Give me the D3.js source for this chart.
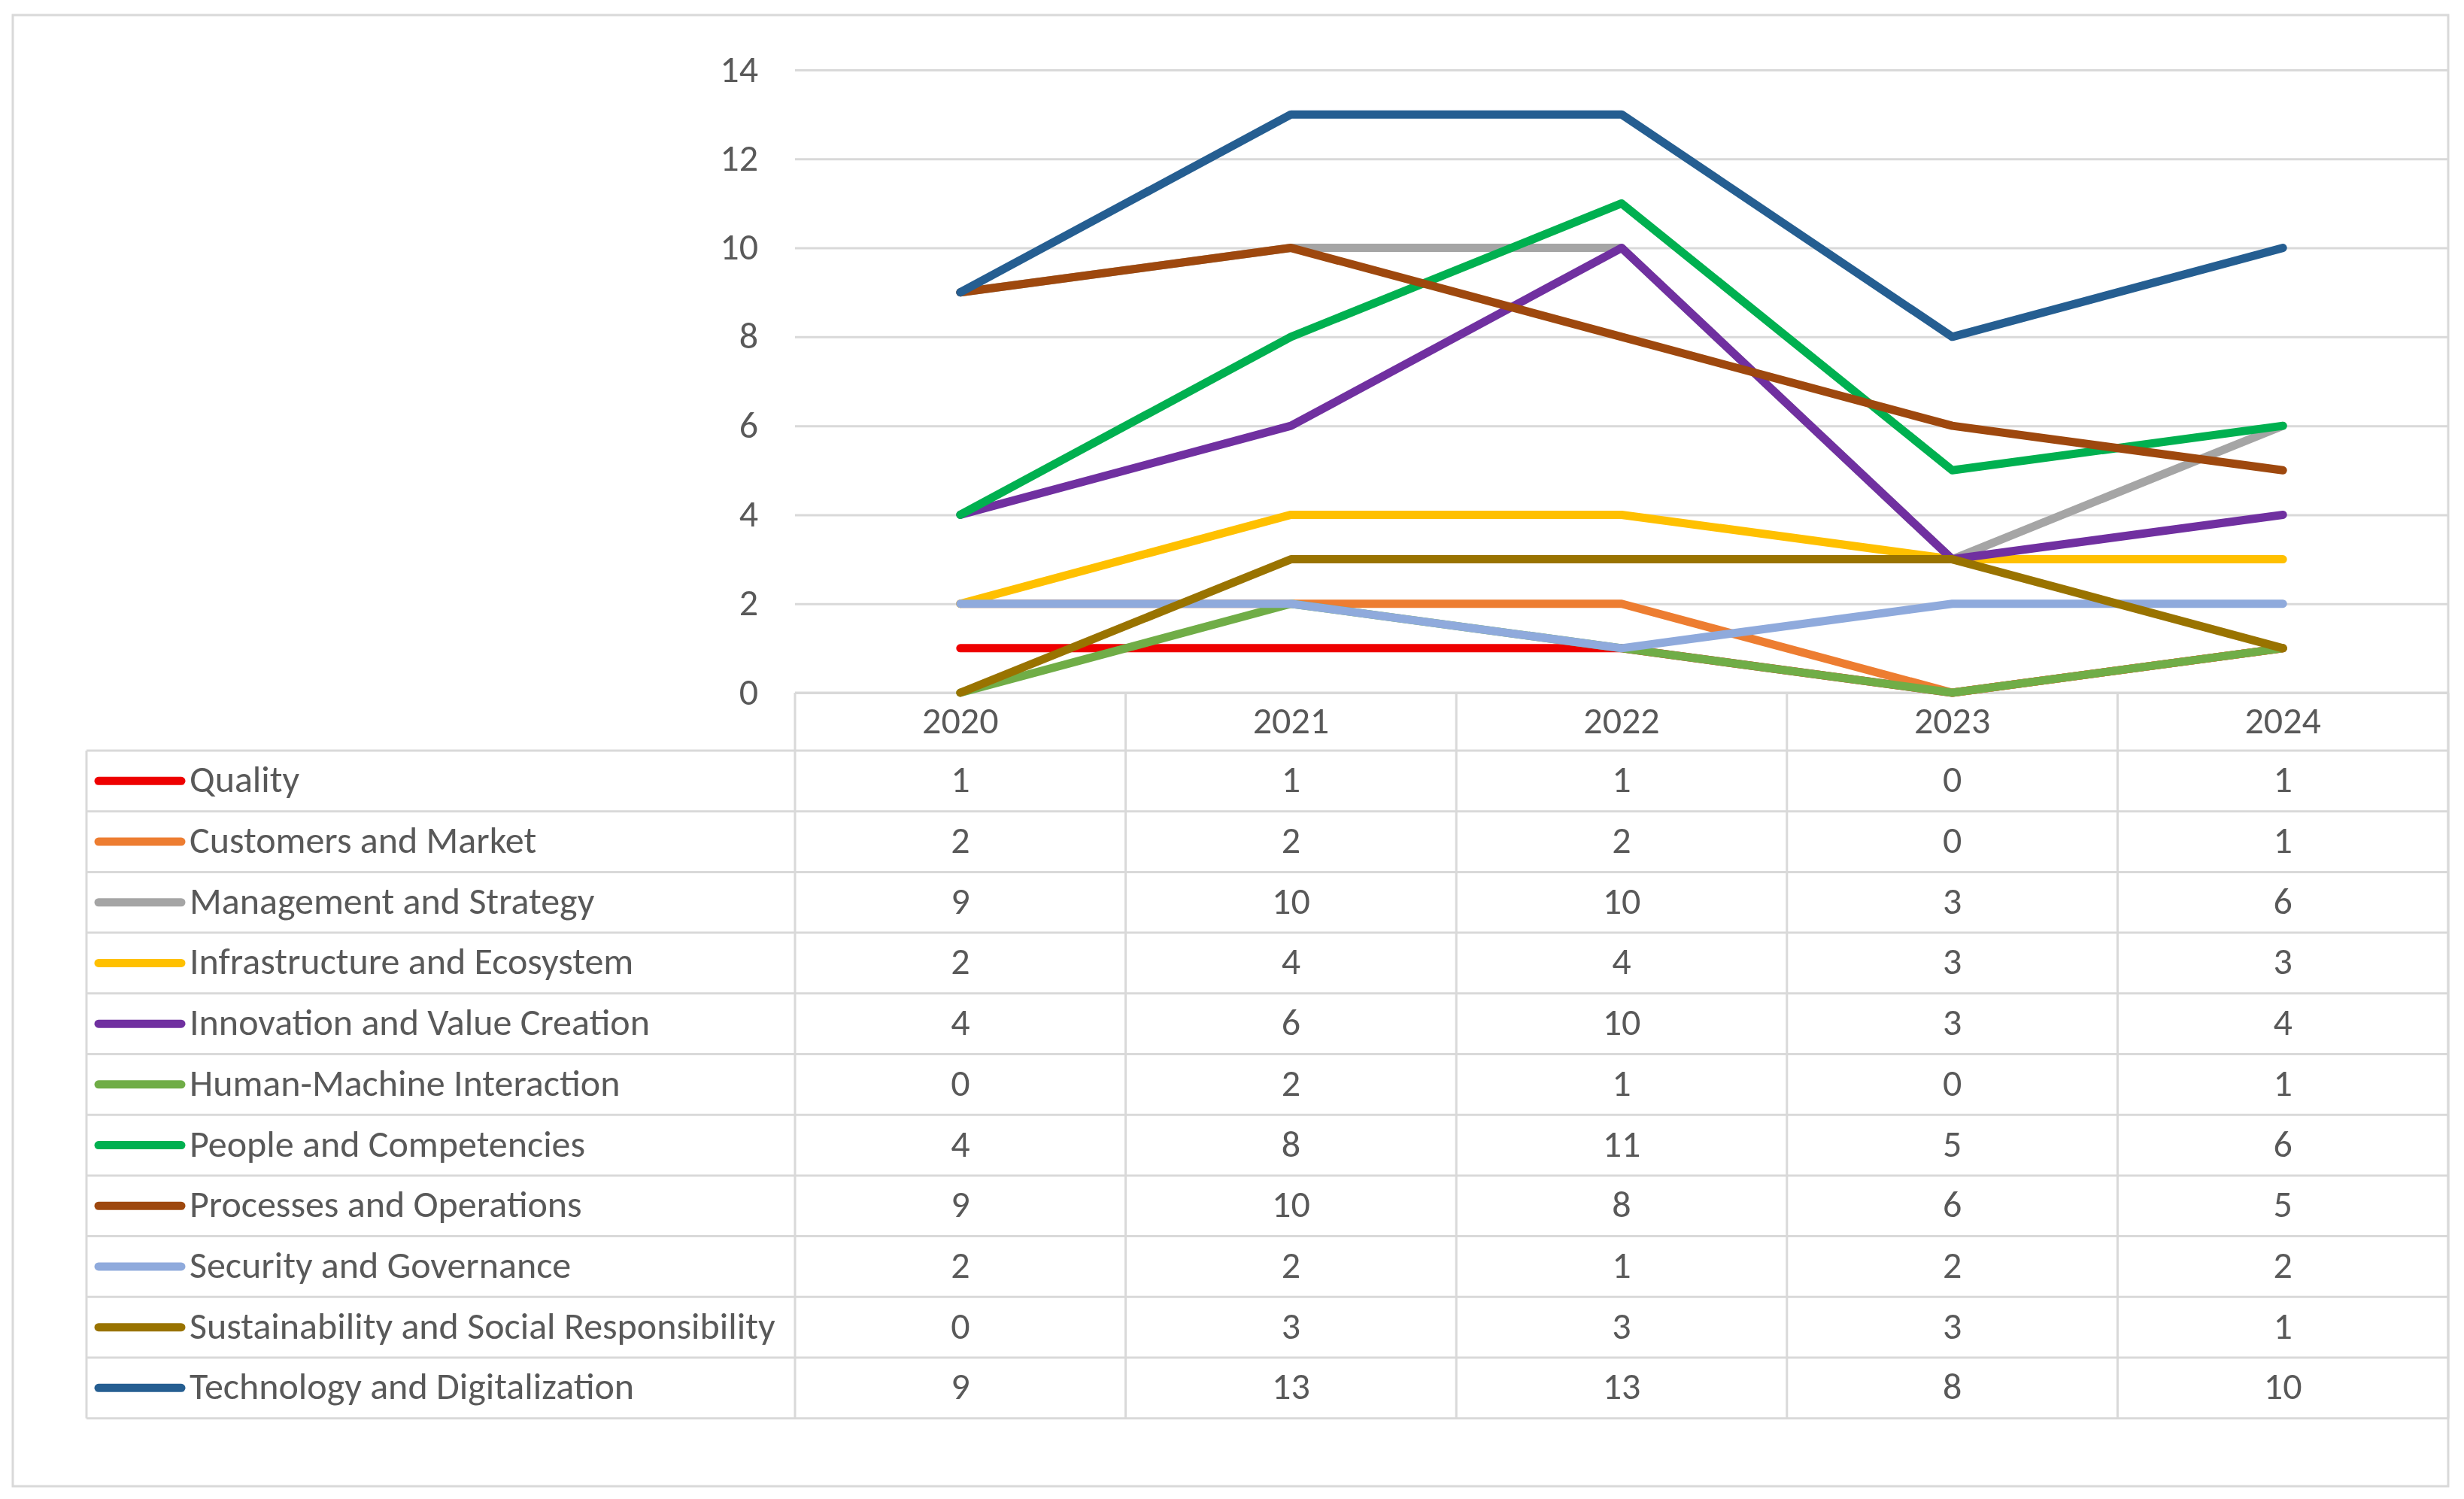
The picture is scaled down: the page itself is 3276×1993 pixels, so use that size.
<!DOCTYPE html>
<html>
<head>
<meta charset="utf-8">
<script src="https://cdn.jsdelivr.net/npm/d3@7"></script>
<style>
  body { margin:0; background:#fff; }
  svg text { font-family: Carlito, Calibri, Lato, "Open Sans", sans-serif; fill:#595959; }
</style>
</head>
<body>
<div id="chart"></div>
<script>
// years on the category axis
var years = ["2020", "2021", "2022", "2023", "2024"];
// series names, in legend / table order
var names = [
  "Quality",
  "Customers and Market",
  "Management and Strategy",
  "Infrastructure and Ecosystem",
  "Innovation and Value Creation",
  "Human-Machine Interaction",
  "People and Competencies",
  "Processes and Operations",
  "Security and Governance",
  "Sustainability and Social Responsibility",
  "Technology and Digitalization"
];
// one row of values per series, one value per year
var values = [
  [1, 1, 1, 0, 1],
  [2, 2, 2, 0, 1],
  [9, 10, 10, 3, 6],
  [2, 4, 4, 3, 3],
  [4, 6, 10, 3, 4],
  [0, 2, 1, 0, 1],
  [4, 8, 11, 5, 6],
  [9, 10, 8, 6, 5],
  [2, 2, 1, 2, 2],
  [0, 3, 3, 3, 1],
  [9, 13, 13, 8, 10]
];
var yTicks = [0, 2, 4, 6, 8, 10, 12, 14];

var colors = ["#EE0000", "#ED7D31", "#A5A5A5", "#FFC000", "#7030A0", "#70AD47",
              "#00B050", "#9E480E", "#8FAADC", "#997300", "#255E91"];

var W = 3276, H = 1993;
var plot = {left:1057, right:3255, top:93, bottom:921};
var table = {left:115, headerBottom:998, rowH:80.7};
var grid = "#d9d9d9";
var fs = 50;

var series = names.map(function(n, i){
  return {name:n, values:values[i], color:colors[i]};
});

var svg = d3.select("#chart").append("svg").attr("width", W).attr("height", H);

// chart area border
svg.append("rect").attr("x", 17).attr("y", 20).attr("width", 3238).attr("height", 1956)
  .attr("fill", "#fff").attr("stroke", grid).attr("stroke-width", 3);

var x = d3.scaleBand().domain(years).range([plot.left, plot.right]);
var y = d3.scaleLinear().domain([0, 14]).range([plot.bottom, plot.top]);

// value axis with gridlines
var yAxis = svg.append("g").attr("transform", "translate(" + plot.left + ",0)")
  .call(d3.axisLeft(y).tickValues(yTicks).tickSize(-(plot.right - plot.left)).tickPadding(49));
yAxis.select(".domain").remove();
yAxis.selectAll(".tick line").attr("stroke", grid).attr("stroke-width", 3);
yAxis.selectAll(".tick text").attr("font-size", fs).attr("dy", "0.3em").style("font-family", null);

// data table
var tableBottom = table.headerBottom + table.rowH * names.length;
var t = svg.append("g").attr("class", "table");
// horizontal rules
t.selectAll(".hrule").data(d3.range(names.length + 1)).enter().append("line")
  .attr("x1", table.left).attr("x2", plot.right)
  .attr("y1", function(d){ return table.headerBottom + d * table.rowH; })
  .attr("y2", function(d){ return table.headerBottom + d * table.rowH; })
  .attr("stroke", grid).attr("stroke-width", 3);
// axis line (top of header)
t.append("line").attr("x1", plot.left).attr("x2", plot.right)
  .attr("y1", plot.bottom).attr("y2", plot.bottom).attr("stroke", grid).attr("stroke-width", 3);
// column rules
t.selectAll(".vrule").data(years.concat(["end"])).enter().append("line")
  .attr("x1", function(d, i){ return plot.left + i * x.bandwidth(); })
  .attr("x2", function(d, i){ return plot.left + i * x.bandwidth(); })
  .attr("y1", plot.bottom).attr("y2", tableBottom)
  .attr("stroke", grid).attr("stroke-width", 3);
t.append("line").attr("x1", table.left).attr("x2", table.left)
  .attr("y1", table.headerBottom).attr("y2", tableBottom)
  .attr("stroke", grid).attr("stroke-width", 3);

// year headers
t.selectAll(".year").data(years).enter().append("text")
  .attr("class", "year")
  .attr("x", function(d){ return x(d) + x.bandwidth() / 2; })
  .attr("y", (plot.bottom + table.headerBottom) / 2 + 15)
  .attr("text-anchor", "middle").attr("font-size", fs)
  .text(function(d){ return d; });

var rows = t.selectAll(".row").data(series).enter().append("g")
  .attr("class", "row")
  .attr("transform", function(d, i){
    return "translate(0," + (table.headerBottom + (i + 0.5) * table.rowH) + ")";
  });
rows.append("line")
  .attr("x1", 131).attr("x2", 241).attr("y1", 0).attr("y2", 0)
  .attr("stroke", function(d){ return d.color; })
  .attr("stroke-width", 11).attr("stroke-linecap", "round");
rows.append("text")
  .attr("x", 252).attr("y", 15).attr("font-size", fs)
  .text(function(d){ return d.name; });
rows.selectAll(".val").data(function(d){ return d.values; }).enter().append("text")
  .attr("class", "val")
  .attr("x", function(d, i){ return x(years[i]) + x.bandwidth() / 2; })
  .attr("y", 15).attr("text-anchor", "middle").attr("font-size", fs)
  .text(function(d){ return d; });

// lines, later series drawn on top
var line = d3.line()
  .x(function(d, i){ return x(years[i]) + x.bandwidth() / 2; })
  .y(function(d){ return y(d); });
svg.append("g").selectAll("path").data(series).enter().append("path")
  .attr("d", function(d){ return line(d.values); })
  .attr("fill", "none")
  .attr("stroke", function(d){ return d.color; })
  .attr("stroke-width", 11)
  .attr("stroke-linecap", "round")
  .attr("stroke-linejoin", "round");
</script>
</body>
</html>
